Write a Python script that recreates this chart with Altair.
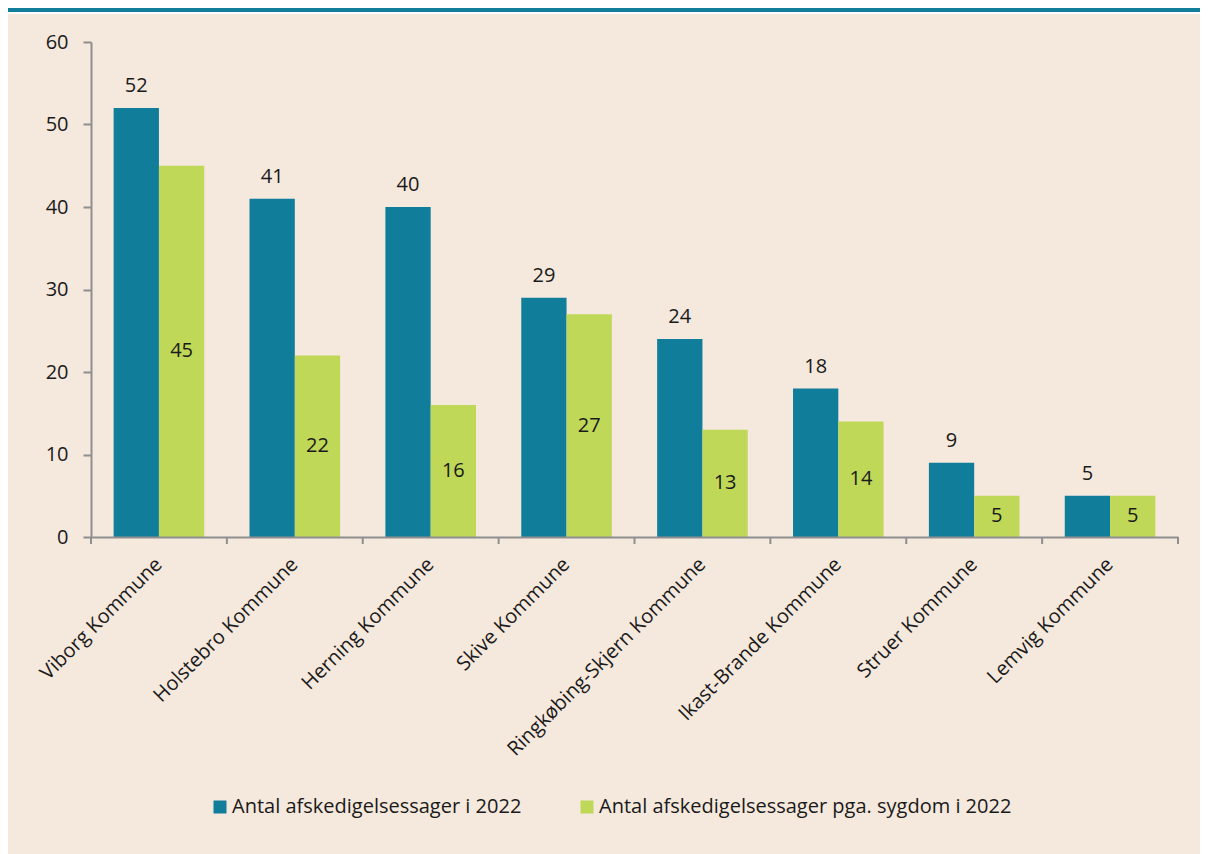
import altair as alt
import pandas as pd

categories = ["Viborg Kommune", "Holstebro Kommune", "Herning Kommune", "Skive Kommune",
              "Ringkøbing-Skjern Kommune", "Ikast-Brande Kommune", "Struer Kommune", "Lemvig Kommune"]
series_names = ["Antal afskedigelsessager i 2022", "Antal afskedigelsessager pga. sygdom i 2022"]
total_cases = [52, 41, 40, 29, 24, 18, 9, 5]
sick_cases = [45, 22, 16, 27, 13, 14, 5, 5]
y_ticks = [0, 10, 20, 30, 40, 50, 60]

TEAL = "#107d9a"
GREEN = "#bfd857"
BEIGE = "#f5e8dc"
GRAY = "#8f8f8f"
TXT = "#1a1a1a"
FONT = "Open Sans"
FS = 20

rows = []
for c, a, b in zip(categories, total_cases, sick_cases):
    rows.append({"kommune": c, "serie": series_names[0], "antal": a})
    rows.append({"kommune": c, "serie": series_names[1], "antal": b})
df = pd.DataFrame(rows)
cat_df = pd.DataFrame({"kommune": categories})
last_df = pd.DataFrame({"kommune": categories[-1:]})

W, H = 1087, 495
PL, PT, PR, PB = 83, 34, 22, 317

x_enc = alt.X("kommune:N", sort=categories,
              scale=alt.Scale(paddingInner=0, paddingOuter=0),
              axis=alt.Axis(title=None, labelAngle=-45, labelAlign="right",
                            labelBaseline="middle", ticks=False, tickSize=0,
                            labelPadding=24, labelFontSize=FS, labelFont=FONT,
                            labelColor=TXT, domainColor=GRAY, domainWidth=2,
                            labelLimit=400, zindex=1))
xo_enc = alt.XOffset("serie:N", sort=series_names,
                     scale=alt.Scale(paddingInner=0, paddingOuter=0.5))
y_scale = alt.Scale(domain=[0, 60], nice=False, zero=True)

bg = alt.Chart(pd.DataFrame({"a": [0]})).mark_rect(color=BEIGE).encode(
    x=alt.value(-PL), x2=alt.value(W + PR), y=alt.value(-PT + 6), y2=alt.value(H + PB))
strip = alt.Chart(pd.DataFrame({"a": [0]})).mark_rect(color=TEAL).encode(
    x=alt.value(-PL), x2=alt.value(W + PR), y=alt.value(-PT), y2=alt.value(-PT + 4))

bars = alt.Chart(df).mark_bar().encode(
    x=x_enc,
    xOffset=xo_enc,
    y=alt.Y("antal:Q", scale=y_scale,
            axis=alt.Axis(title=None, values=y_ticks, grid=False, tickSize=8,
                          tickColor=GRAY, tickWidth=2, domainColor=GRAY, domainWidth=2,
                          labelPadding=15, labelFontSize=FS, labelFont=FONT,
                          labelColor=TXT, zindex=1)),
    color=alt.Color("serie:N", sort=series_names,
                    scale=alt.Scale(domain=series_names, range=[TEAL, GREEN]),
                    legend=alt.Legend(title=None, orient="none", direction="horizontal",
                                      legendX=119, legendY=755, symbolType="square",
                                      symbolSize=169, symbolStrokeWidth=0,
                                      labelFontSize=FS, labelFont=FONT, labelColor=TXT,
                                      labelOffset=2, columnPadding=55, padding=0,
                                      labelLimit=600)),
)

top_labels = alt.Chart(df).transform_filter(
    alt.datum.serie == series_names[0]
).mark_text(baseline="alphabetic", dy=-16, fontSize=FS, font=FONT, color=TXT).encode(
    x=alt.X("kommune:N", sort=categories),
    xOffset=alt.XOffset("serie:N", sort=series_names),
    y=alt.Y("antal:Q", scale=y_scale),
    text="antal:Q",
)

mid_labels = alt.Chart(df).transform_filter(
    alt.datum.serie == series_names[1]
).transform_calculate(mid="datum.antal / 2").mark_text(
    baseline="middle", fontSize=FS, font=FONT, color=TXT).encode(
    x=alt.X("kommune:N", sort=categories),
    xOffset=alt.XOffset("serie:N", sort=series_names),
    y=alt.Y("mid:Q", scale=y_scale),
    text="antal:Q",
)

ticks0 = alt.Chart(cat_df).mark_rule(color=GRAY, strokeWidth=2).encode(
    x=alt.X("kommune:N", sort=categories, bandPosition=0),
    y=alt.value(H), y2=alt.value(H + 7))
ticks1 = alt.Chart(last_df).mark_rule(color=GRAY, strokeWidth=2).encode(
    x=alt.X("kommune:N", sort=categories, bandPosition=1),
    y=alt.value(H), y2=alt.value(H + 7))

chart = alt.layer(bg, strip, bars, top_labels, mid_labels, ticks0, ticks1).properties(
    width=W, height=H,
    autosize=alt.AutoSizeParams(type="none"),
    padding={"left": PL, "top": PT, "right": PR, "bottom": PB},
    background="white",
).configure_view(stroke=None)

chart.save("out.html", embed_options={"renderer": "svg", "actions": False})
